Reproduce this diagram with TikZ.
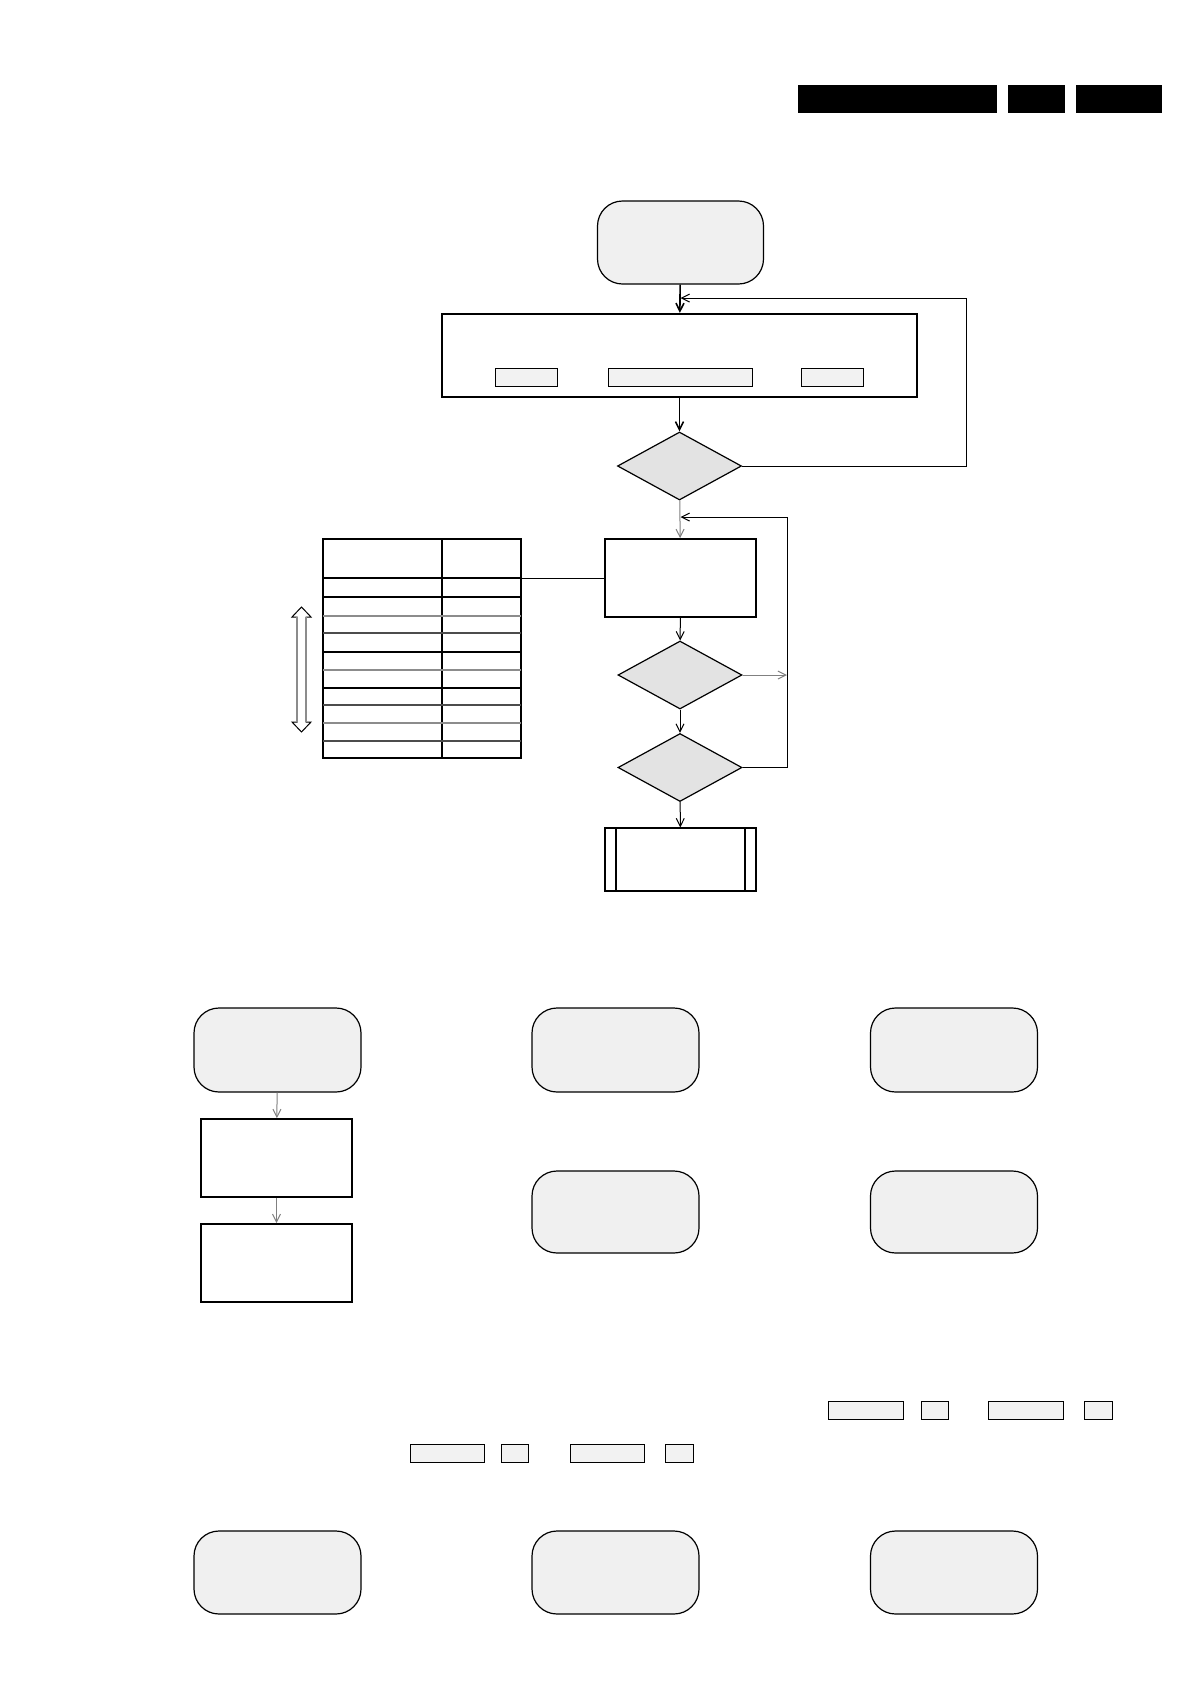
\documentclass[tikz,border=0pt]{standalone}
\usetikzlibrary{shapes.geometric,arrows.meta}
\tikzset{
	term/.style={draw, line width=1.2pt, fill=black!6, rounded corners=25pt, minimum width=166pt, minimum height=83pt, inner sep=0pt},
	procbox/.style={draw, line width=1.6pt, fill=white, minimum width=151pt, minimum height=78pt, inner sep=0pt},
	decide/.style={draw, diamond, line width=1.2pt, fill=black!11, minimum width=124pt, minimum height=68pt, inner sep=0pt},
	tag/.style={draw, line width=1pt, fill=black!5, minimum height=18pt, inner sep=0pt},
	hdrbar/.style={fill=black, minimum height=28pt, inner sep=0pt},
	flow/.style={-{Straight Barb[length=8pt,width=8pt]}, line width=1pt},
	grayflow/.style={flow, draw=black!50},
}
\begin{document}
\begin{tikzpicture}[x=1pt, y=-1pt]
	\useasboundingbox (0,0) rectangle (1190,1682);
	\node[hdrbar, minimum width=199pt] (hdrA) at (897.5,99) {};
	\node[hdrbar, minimum width=57pt] (hdrB) at (1036.5,99) {};
	\node[hdrbar, minimum width=86pt] (hdrC) at (1119,99) {};

	\node[term] (start) at (680.5,242.5) {};
	\node[draw, line width=2.2pt, minimum width=475pt, minimum height=83pt, inner sep=0pt] (setup) at (679.5,355.5) {};
	\node[tag, minimum width=62pt] (setA) at (526,377) {};
	\node[tag, minimum width=144pt] (setB) at (680,377) {};
	\node[tag, minimum width=62pt] (setC) at (832,377) {};
	\node[decide] (chkA) at (679.5,466) {};
	\node[procbox] (step) at (680.5,578) {};
	\node[decide] (chkB) at (680,675) {};
	\node[decide] (chkC) at (680,767.5) {};
	\node[procbox, minimum height=63pt, line width=1.2pt] (done) at (680.5,859.5) {};
	\draw[line width=2pt] ([xshift=12pt]done.north west) -- ([xshift=12pt]done.south west);
	\draw[line width=2pt] ([xshift=-12pt]done.north east) -- ([xshift=-12pt]done.south east);

	\coordinate (loopA) at (966,298);
	\coordinate (loopB) at (787,517);
	\draw[flow, line width=1.6pt] (start) -- (setup);
	\draw[flow, line width=1.6pt] (setup) -- (chkA);
	\draw[flow] (chkA.east) -| (loopA) -- (start.south |- loopA);
	\draw[grayflow] (chkA) -- (step);
	\draw[flow] (step) -- (chkB);
	\draw[flow] (chkB) -- (chkC);
	\draw[flow] (chkC) -- (done);
	\draw[flow] (chkC.east) -| (loopB) -- (step.north |- loopB);
	\draw[grayflow] (chkB.east) -- (chkB.east -| loopB);

	\draw[line width=1.2pt] (323,539) rectangle (521,758);
	\draw[line width=2pt] (442,539) -- (442,758);
	\draw[line width=2pt] (323,578) -- (521,578);
	\foreach \y/\c in {597/black, 616/black!45, 633/black!70, 652/black, 670/black!45, 688/black, 705/black!70, 723/black!45, 741/black!70}
		\draw[line width=1.2pt, draw=\c] (323,\y) -- (521,\y);
	\coordinate (tab) at (521,578);
	\draw[line width=1pt] (tab) -- (step.west);
	\draw[line width=1pt, fill=white] (301.5,607) -- (311,617) -- (306,617) -- (306,722) -- (311,722) -- (301.5,732) -- (292,722) -- (297,722) -- (297,617) -- (292,617) -- cycle;
	\draw[line width=1.2pt, black!45] (297,617) -- (297,722) (306,617) -- (306,722);

	\node[term, minimum width=167pt, minimum height=84pt] (idle) at (277.5,1050) {};
	\node[procbox] (load) at (276.5,1158) {};
	\node[procbox] (save) at (276.5,1263) {};
	\draw[grayflow] (idle) -- (load);
	\draw[grayflow] (load) -- (save);
	\node[term, minimum width=167pt, minimum height=84pt] (modeA) at (615.5,1050) {};
	\node[term, minimum width=167pt, minimum height=84pt] (modeB) at (954,1050) {};
	\node[term, minimum width=167pt, minimum height=82pt] (modeC) at (615.5,1212) {};
	\node[term, minimum width=167pt, minimum height=82pt] (modeD) at (954,1212) {};

	\node[tag, minimum width=75pt] (keyA) at (865.5,1410) {};
	\node[tag, minimum width=27pt] (keyB) at (934.5,1410) {};
	\node[tag, minimum width=75pt] (keyC) at (1026,1410) {};
	\node[tag, minimum width=28pt] (keyD) at (1098.5,1410) {};
	\node[tag, minimum width=74pt] (keyE) at (447,1453) {};
	\node[tag, minimum width=27pt] (keyF) at (515,1453) {};
	\node[tag, minimum width=74pt] (keyG) at (607,1453) {};
	\node[tag, minimum width=28pt] (keyH) at (679.5,1453) {};

	\node[term, minimum width=167pt] (endA) at (277.5,1572.5) {};
	\node[term, minimum width=167pt] (endB) at (615.5,1572.5) {};
	\node[term, minimum width=167pt] (endC) at (954,1572.5) {};
\end{tikzpicture}
\end{document}
